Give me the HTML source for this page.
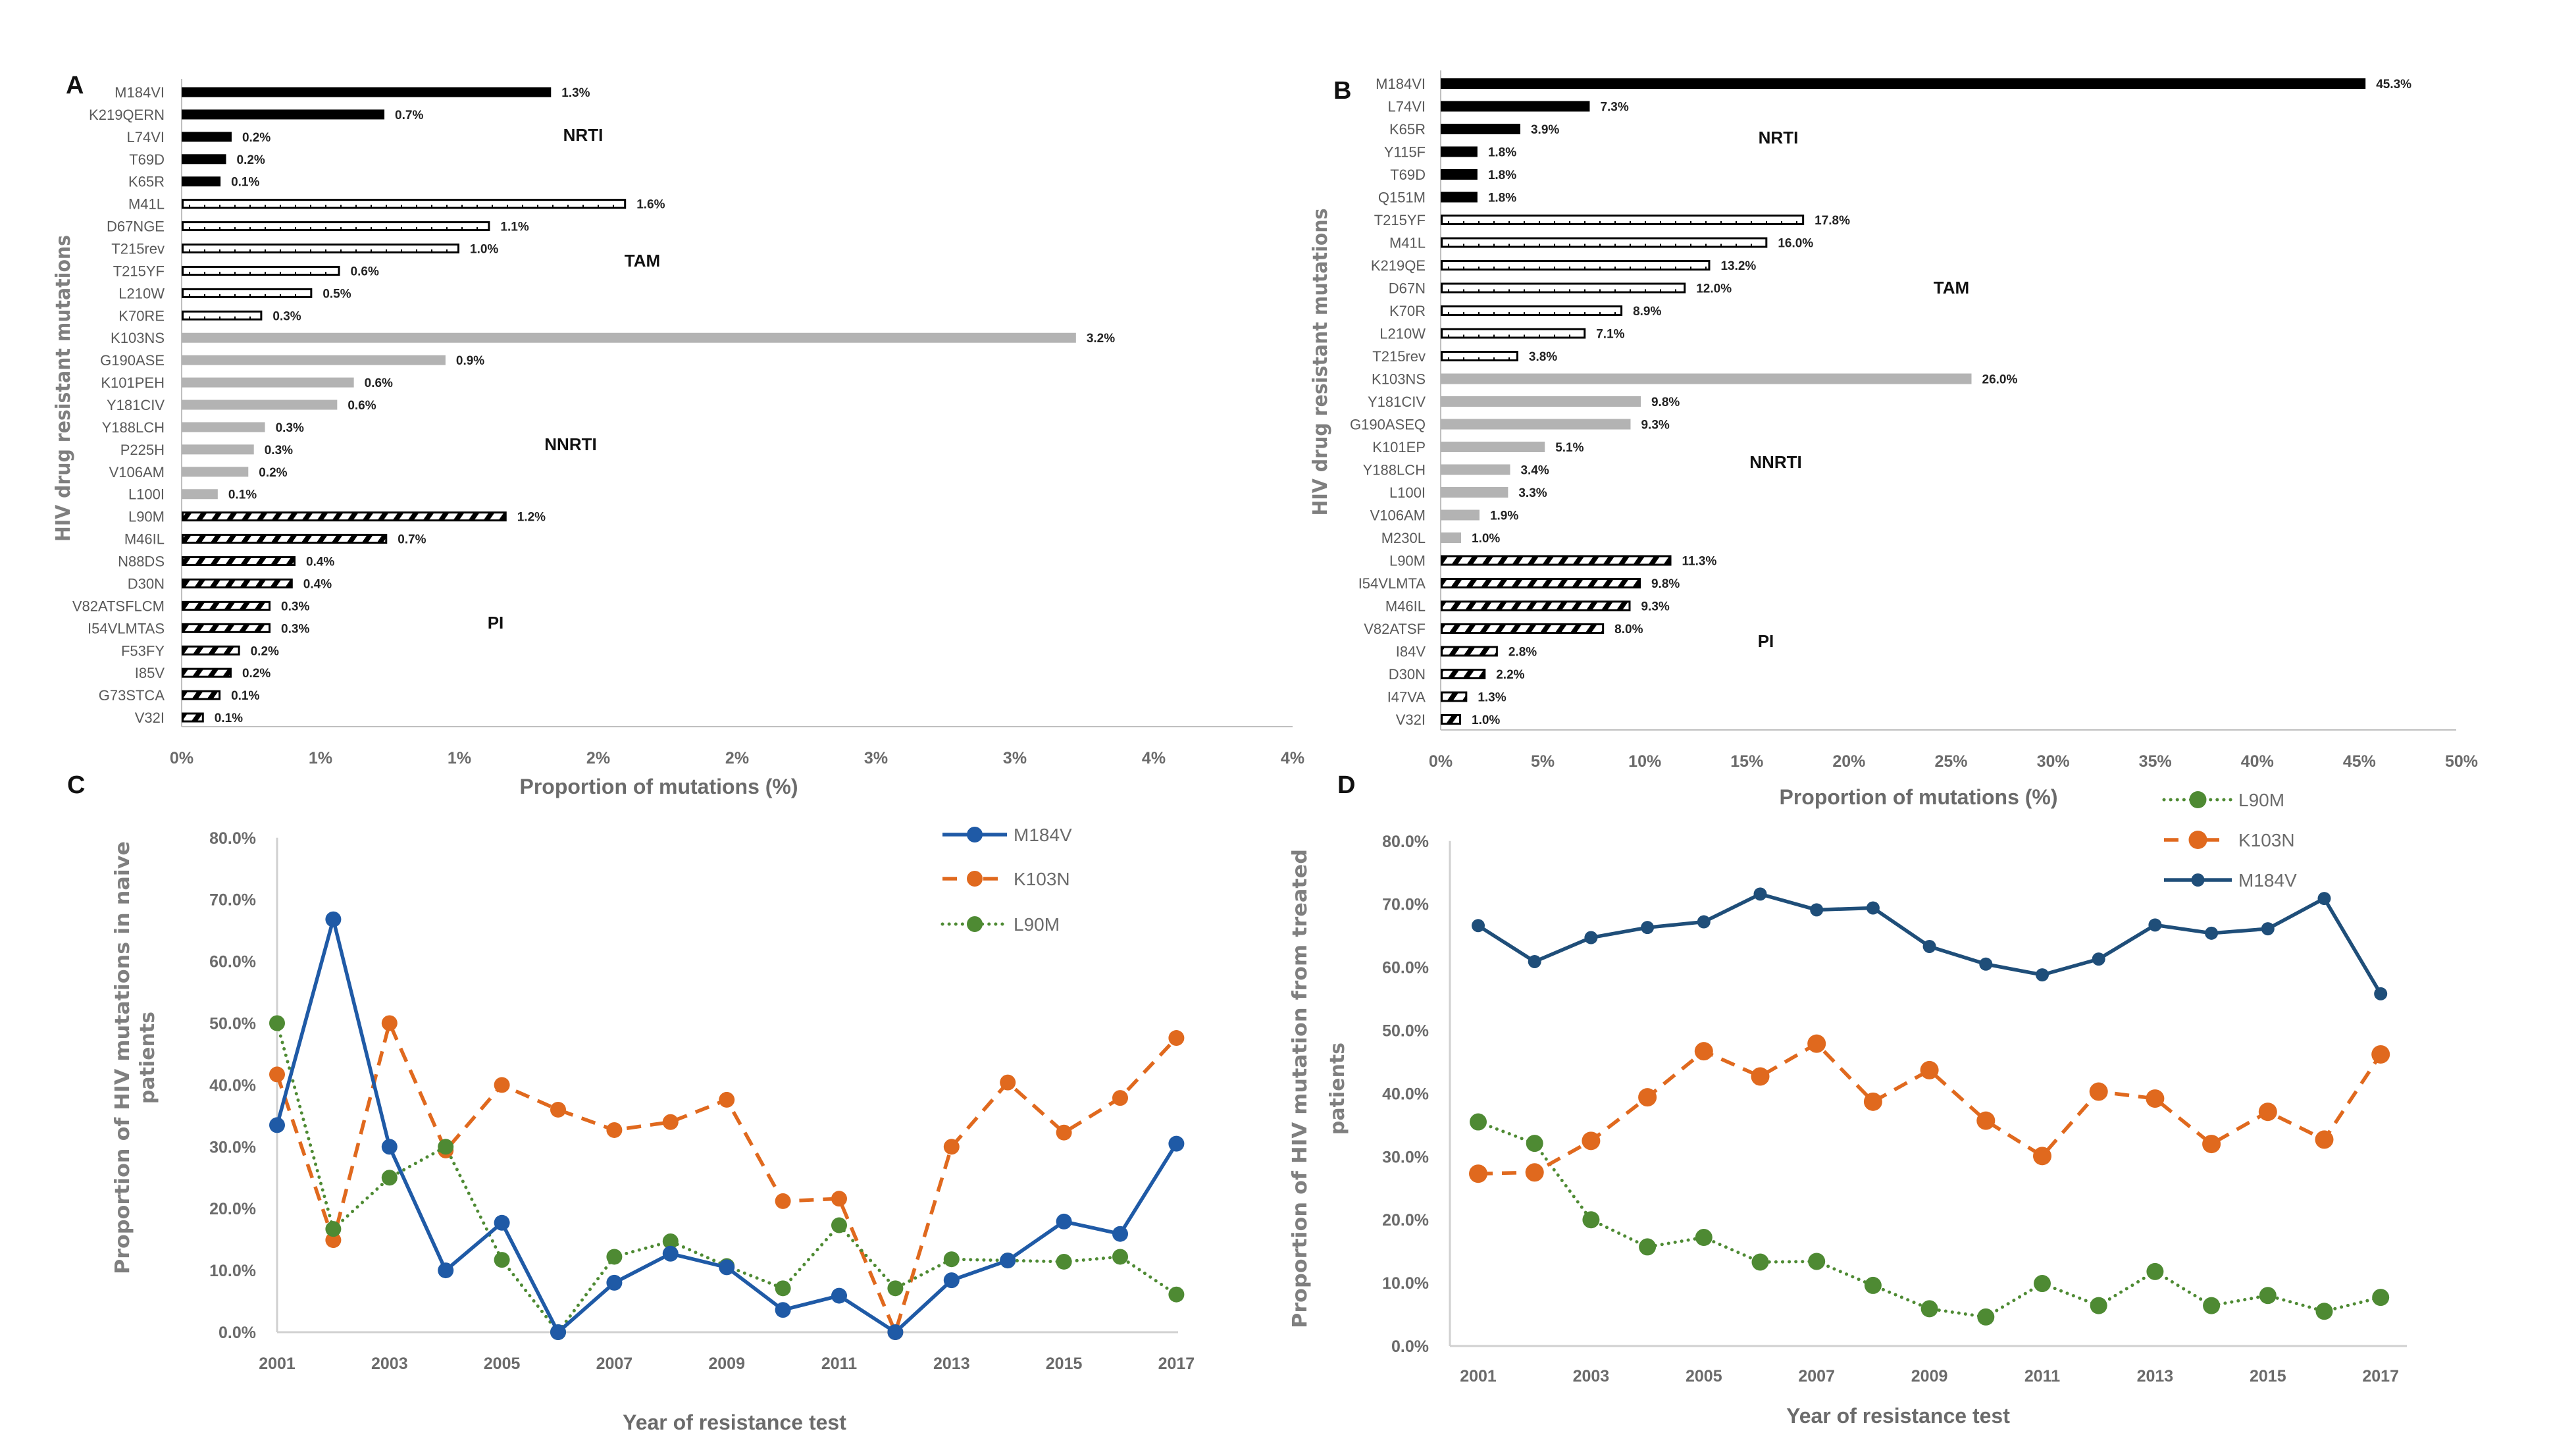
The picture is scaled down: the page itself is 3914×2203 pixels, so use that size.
<!DOCTYPE html>
<html><head><meta charset="utf-8"><style>
html,body{margin:0;padding:0;background:#fff}
svg{display:block}
.cat{font-family:"Liberation Sans Narrow","Liberation Sans",sans-serif;font-size:22px;fill:#595959}
.val{font-family:"Liberation Sans Narrow","Liberation Sans",sans-serif;font-size:19px;font-weight:bold;fill:#222}
.grp{font-family:"Liberation Sans Narrow","Liberation Sans",sans-serif;font-size:26px;font-weight:bold;fill:#111}
.tick{font-family:"Liberation Sans",sans-serif;font-size:25px;font-weight:bold;fill:#6b6b6b}
.ttl{font-family:"Liberation Sans",sans-serif;font-size:32px;font-weight:bold;fill:#6b6b6b}
.yt{font-family:"DejaVu Sans",sans-serif;font-size:30px;font-weight:bold;fill:#7f7f7f}
.pl{font-family:"Liberation Sans",sans-serif;font-size:38px;font-weight:bold;fill:#111}
.leg{font-family:"Liberation Sans Narrow","Liberation Sans",sans-serif;font-size:28px;fill:#6b6b6b}
</style></head><body>
<svg id="fig" width="3914" height="2203" viewBox="0 0 3914 2203" xmlns="http://www.w3.org/2000/svg">
<defs>
<pattern id="hatch" patternUnits="userSpaceOnUse" width="23" height="23" patternTransform="skewX(-35)"><rect width="23" height="23" fill="#fff"/><rect x="0" y="0" width="9" height="23" fill="#000"/></pattern>
</defs>
<g id="root"></g>
</svg>
<script>
// ---------- Panel A data ----------
const catsA = ["M184VI","K219QERN","L74VI","T69D","K65R","M41L","D67NGE","T215rev","T215YF","L210W","K70RE","K103NS","G190ASE","K101PEH","Y181CIV","Y188LCH","P225H","V106AM","L100I","L90M","M46IL","N88DS","D30N","V82ATSFLCM","I54VLMTAS","F53FY","I85V","G73STCA","V32I"];
const valsA = [1.33,0.73,0.18,0.16,0.14,1.60,1.11,1.00,0.57,0.47,0.29,3.22,0.95,0.62,0.56,0.30,0.26,0.24,0.13,1.17,0.74,0.41,0.40,0.32,0.32,0.21,0.18,0.14,0.08];
const labelsA = ["1.3%","0.7%","0.2%","0.2%","0.1%","1.6%","1.1%","1.0%","0.6%","0.5%","0.3%","3.2%","0.9%","0.6%","0.6%","0.3%","0.3%","0.2%","0.1%","1.2%","0.7%","0.4%","0.4%","0.3%","0.3%","0.2%","0.2%","0.1%","0.1%"];
const groupsA = ["NRTI","NRTI","NRTI","NRTI","NRTI","TAM","TAM","TAM","TAM","TAM","TAM","NNRTI","NNRTI","NNRTI","NNRTI","NNRTI","NNRTI","NNRTI","NNRTI","PI","PI","PI","PI","PI","PI","PI","PI","PI","PI"];
const ticksA = [0,0.5,1,1.5,2,2.5,3,3.5,4];
const tickLabelsA = ["0%","1%","1%","2%","2%","3%","3%","4%","4%"];
// ---------- Panel B data ----------
const catsB = ["M184VI","L74VI","K65R","Y115F","T69D","Q151M","T215YF","M41L","K219QE","D67N","K70R","L210W","T215rev","K103NS","Y181CIV","G190ASEQ","K101EP","Y188LCH","L100I","V106AM","M230L","L90M","I54VLMTA","M46IL","V82ATSF","I84V","D30N","I47VA","V32I"];
const valsB = [45.3,7.3,3.9,1.8,1.8,1.8,17.8,16.0,13.2,12.0,8.9,7.1,3.8,26.0,9.8,9.3,5.1,3.4,3.3,1.9,1.0,11.3,9.8,9.3,8.0,2.8,2.2,1.3,1.0];
const groupsB = ["NRTI","NRTI","NRTI","NRTI","NRTI","NRTI","TAM","TAM","TAM","TAM","TAM","TAM","TAM","NNRTI","NNRTI","NNRTI","NNRTI","NNRTI","NNRTI","NNRTI","NNRTI","PI","PI","PI","PI","PI","PI","PI","PI"];
const ticksB = [0,5,10,15,20,25,30,35,40,45,50];
// ---------- Panel C/D data ----------
const years = [2001,2002,2003,2004,2005,2006,2007,2008,2009,2010,2011,2012,2013,2014,2015,2016,2017];
const yearTicks = [2001,2003,2005,2007,2009,2011,2013,2015,2017];
const pctTicks = [0,10,20,30,40,50,60,70,80];
const cM184V = [33.5,66.8,30.0,10.0,17.7,0,8.0,12.7,10.5,3.6,5.9,0,8.4,11.6,17.9,15.9,30.5];
const cK103N = [41.7,14.9,50.0,29.4,40.0,36.0,32.7,34.0,37.6,21.2,21.6,0,30.0,40.4,32.3,37.9,47.6];
const cL90M = [50.0,16.7,25.0,30.0,11.7,0,12.2,14.7,10.7,7.1,17.3,7.1,11.8,11.6,11.4,12.2,6.1];
const dM184V = [66.6,60.9,64.7,66.3,67.2,71.6,69.1,69.4,63.3,60.5,58.8,61.3,66.7,65.4,66.1,70.9,55.8];
const dK103N = [27.3,27.5,32.5,39.4,46.7,42.7,47.9,38.7,43.7,35.7,30.1,40.3,39.2,32.0,37.1,32.7,46.2];
const dL90M = [35.5,32.1,20.0,15.7,17.2,13.3,13.4,9.6,5.9,4.6,9.9,6.4,11.8,6.4,8.0,5.5,7.7];

const NS="http://www.w3.org/2000/svg";
const root=document.getElementById('root');
function mk(tag,attrs,parent,text){const e=document.createElementNS(NS,tag);for(const k in attrs)e.setAttribute(k,attrs[k]);if(text!==undefined)e.textContent=text;(parent||root).appendChild(e);return e;}

function barPanel(o){
  const g=mk('g',{});
  
  
  const x=v=>o.x0+(v-o.vmin)*o.pxPer;
  const y=i=>o.y0+i*o.step;
  const ax=mk('line',{x1:o.x0,y1:o.y0-20,x2:o.x0,y2:o.axisY,stroke:'#bfbfbf','stroke-width':2},g);
  
  
  const bx=mk('line',{x1:o.x0,y1:o.axisY,x2:o.axisEnd,y2:o.axisY,stroke:'#bfbfbf','stroke-width':2},g);
  
  
  o.ticks.forEach((t,i)=>{
    const tl=mk('text',{x:x(t),y:o.tickY,'text-anchor':'middle',class:'tick'},g,o.tickLabels[i]);
    
    
  });
  o.cats.forEach((c,i)=>{
    const yy=y(i), h=o.bh, w=x(o.vals[i])-o.x0, grp=o.groups[i];
    const cl=mk('text',{x:o.labelX,y:yy+8,'text-anchor':'end',class:'cat'},g,c);
    
    
    let r;
    if(grp==='NRTI') r=mk('rect',{x:o.x0,y:yy-h/2,width:w,height:h,fill:'#000'},g);
    else if(grp==='NNRTI') r=mk('rect',{x:o.x0,y:yy-h/2,width:w,height:h,fill:'#b3b3b3'},g);
    else if(grp==='TAM'){
      r=mk('rect',{x:o.x0+1.5,y:yy-h/2+1.5,width:w-3,height:h-3,fill:'#fff',stroke:'#000','stroke-width':3},g);
      for(let tx=o.x0+12;tx<o.x0+w-6;tx+=23){mk('line',{x1:tx,y1:yy+h/2-6,x2:tx,y2:yy+h/2-1,stroke:'#000','stroke-width':2},g);}
    } else r=mk('rect',{x:o.x0+1.5,y:yy-h/2+1.5,width:w-3,height:h-3,fill:'url(#hatch)',stroke:'#000','stroke-width':3},g);
    
    
    const vl=mk('text',{x:o.x0+w+16,y:yy+7,class:'val'},g,o.valLabels[i]);
    
    
  });
  o.grpLabels.forEach(gl=>{
    const t=mk('text',{x:gl[1],y:gl[2],'text-anchor':'middle',class:'grp'},g,gl[0]);
    
    
  });
  const yt=mk('text',{x:0,y:0,'text-anchor':'middle',class:'yt',transform:`translate(${o.ytX},${o.ytY}) rotate(-90)`,textLength:o.ytLen,lengthAdjust:'spacingAndGlyphs'},g,'HIV drug resistant mutations');
  
  
  const xt=mk('text',{x:o.xtX,y:o.xtY,'text-anchor':'middle',class:'ttl'},g,'Proportion of mutations (%)');
  
  
  const pl=mk('text',{x:o.plX,y:o.plY,class:'pl'},g,o.letter);
  
  
}

barPanel({name:'panel-a-bar-chart',cats:catsA,vals:valsA,valLabels:labelsA,groups:groupsA,ticks:ticksA,tickLabels:tickLabelsA,
  x0:276,vmin:0,pxPer:422,y0:140,step:33.93,bh:15,axisY:1104,axisEnd:1964,tickY:1160,labelX:250,
  grpLabels:[['NRTI',886,214],['TAM',976,405],['NNRTI',867,684],['PI',753,955]],
  ytX:106,ytY:590,ytLen:466,xtX:1001,xtY:1206,plX:100,plY:142,letter:'A'});
barPanel({name:'panel-b-bar-chart',cats:catsB,vals:valsB,valLabels:valsB.map(v=>v.toFixed(1)+'%'),groups:groupsB,ticks:ticksB,tickLabels:ticksB.map(t=>t+'%'),
  x0:2189,vmin:0,pxPer:31.02,y0:127,step:34.5,bh:16,axisY:1109,axisEnd:3732,tickY:1165,labelX:2166,
  grpLabels:[['NRTI',2702,218],['TAM',2965,446],['NNRTI',2698,711],['PI',2683,983]],
  ytX:2016,ytY:550,ytLen:467,xtX:2915,xtY:1222,plX:2026,plY:150,letter:'B'});

function linePanel(o){
  const g=mk('g',{});
  
  
  const x=yr=>o.x0+(yr-2001)*o.perYear;
  const y=v=>o.yZero-v*o.perPct;
  const a1=mk('line',{x1:o.ax0,y1:y(80),x2:o.ax0,y2:o.yZero,stroke:'#d0d0d0','stroke-width':3},g);
  
  
  const a2=mk('line',{x1:o.ax0,y1:o.yZero,x2:o.axEnd,y2:o.yZero,stroke:'#d0d0d0','stroke-width':3},g);
  
  
  pctTicks.forEach(t=>{
    const tl=mk('text',{x:o.ytickX,y:y(t)+9,'text-anchor':'end',class:'tick'},g,t.toFixed(1)+'%');
    
    
  });
  yearTicks.forEach(t=>{
    const tl=mk('text',{x:x(t),y:o.xtickY,'text-anchor':'middle',class:'tick'},g,String(t));
    
    
  });
  o.series.forEach(s=>{
    const sg=mk('g',{},g);
    
    
    const pts=s.vals.map((v,i)=>x(years[i])+','+y(v)).join(' ');
    const pl=mk('polyline',{points:pts,fill:'none',stroke:s.color,'stroke-width':s.w,'stroke-dasharray':s.dash,'stroke-linecap':s.dash==='0.1 10'?'round':'butt','stroke-linejoin':'round'},sg);
    
    
    s.vals.forEach((v,i)=>{
      const c=mk('circle',{cx:x(years[i]),cy:y(v),r:s.r,fill:s.color},sg);
      
      
    });
    const lg=mk('g',{},g);
    
    
    mk('line',{x1:o.legX1,y1:s.legY,x2:o.legX2,y2:s.legY,stroke:s.color,'stroke-width':s.w,'stroke-dasharray':s.dash==='0.1 10'?'0.1 10':(s.dash==='none'?'none':'22 40'),'stroke-linecap':s.dash==='0.1 10'?'round':'butt'},lg);
    mk('circle',{cx:(o.legX1+o.legX2)/2,cy:s.legY,r:s.r,fill:s.color},lg);
    mk('text',{x:o.legX2+10,y:s.legY+10,class:'leg'},lg,s.name);
  });
  const yt=mk('text',{x:0,y:0,'text-anchor':'middle',class:'yt',transform:`translate(${o.yt1X},${o.ytY}) rotate(-90)`,textLength:o.ytLen,lengthAdjust:'spacingAndGlyphs'},g,o.yTitle1);
  
  
  const yt2=mk('text',{x:0,y:0,'text-anchor':'middle',class:'yt',transform:`translate(${o.yt2X},${o.ytY}) rotate(-90)`},g,'patients');
  
  
  const xt=mk('text',{x:o.xtX,y:o.xtY,'text-anchor':'middle',class:'ttl'},g,'Year of resistance test');
  
  
  const pl=mk('text',{x:o.plX,y:o.plY,class:'pl'},g,o.letter);
  
  
}
linePanel({name:'panel-c-line-chart',x0:421,ax0:421,axEnd:1790,perYear:85.4,yZero:2024,perPct:9.39,ytickX:389,xtickY:2080,
  series:[
    {name:'K103N',vals:cK103N,color:'#e0691e',w:5.5,dash:'22 14',r:12,legY:1335},
    {name:'L90M',vals:cL90M,color:'#4e8a33',w:5,dash:'0.1 10',r:12,legY:1404},
    {name:'M184V',vals:cM184V,color:'#1f5aa6',w:5.5,dash:'none',r:12,legY:1268}],
  legX1:1432,legX2:1530,yTitle1:'Proportion of HIV mutations in naive',yt1X:196,yt2X:234,ytY:1607,ytLen:658,
  xtX:1116,xtY:2172,plX:102,plY:1205,letter:'C'});
linePanel({name:'panel-d-line-chart',x0:2246,ax0:2203,axEnd:3657,perYear:85.7,yZero:2045,perPct:9.59,ytickX:2171,xtickY:2099,
  series:[
    {name:'L90M',vals:dL90M,color:'#4e8a33',w:5,dash:'0.1 10',r:13,legY:1215},
    {name:'K103N',vals:dK103N,color:'#e0691e',w:5.5,dash:'22 14',r:14,legY:1276},
    {name:'M184V',vals:dM184V,color:'#1f4e79',w:5.5,dash:'none',r:10,legY:1337}],
  legX1:3288,legX2:3391,yTitle1:'Proportion of HIV mutation from treated',yt1X:1985,yt2X:2042,ytY:1654,ytLen:728,
  xtX:2884,xtY:2162,plX:2032,plY:1205,letter:'D'});
</script>
</body></html>
